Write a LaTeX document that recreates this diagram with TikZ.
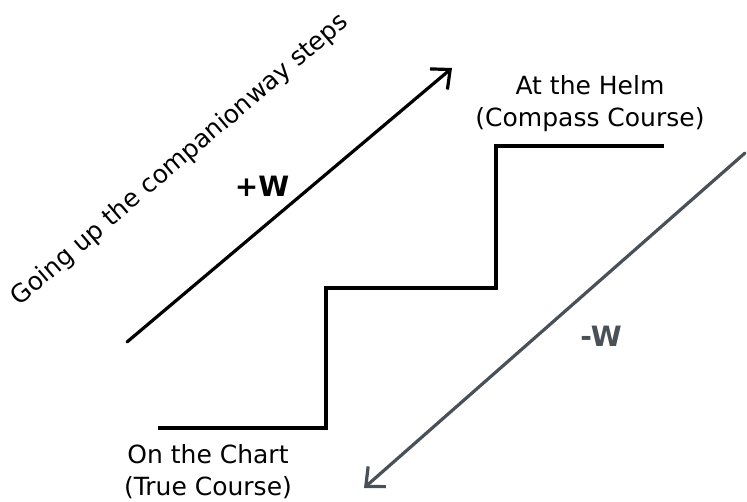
\documentclass[tikz,border=0pt]{standalone}
\usepackage{fontspec}
\setmainfont{DejaVu Sans}
\usetikzlibrary{arrows.meta}
\definecolor{inkgray}{HTML}{495057}
\tikzset{
  lbl/.style={font=\fontsize{25}{32}\selectfont, align=center, inner sep=0pt},
  stair/.style={line width=3.2pt, black, line join=miter},
  bigarrow/.style={line width=3.2pt, line cap=round, -{Straight Barb[length=15pt,width=27pt,line width=3.2pt]}},
}
\begin{document}
\begin{tikzpicture}[x=1pt,y=-1pt]
\useasboundingbox (0,0) rectangle (747,502);
% staircase
\coordinate (s0) at (158,428);
\coordinate (s1) at (326,428);
\coordinate (s2) at (326,288);
\coordinate (s3) at (496,288);
\coordinate (s4) at (496,146);
\coordinate (s5) at (664,146);
\draw[stair] (s0) -- (s1) -- (s2) -- (s3) -- (s4) -- (s5);
% arrows
\coordinate (pa) at (127,342);
\coordinate (pb) at (452,68);
\draw[bigarrow, black] (pa) -- (pb);
\coordinate (ma) at (745,153);
\coordinate (mb) at (364,488);
\draw[bigarrow, inkgray] (ma) -- (mb);
% labels
\node[lbl, rotate=40.5] (going) at (180,160) {Going up the companionway steps};
\node[lbl, font=\fontsize{28}{32}\selectfont\bfseries] (plusw) at (262,186) {+W};
\node[lbl, font=\fontsize{28}{32}\selectfont\bfseries, text=inkgray] (minusw) at (601,336) {-W};
\node[lbl] (helm) at (590,104) {At the Helm\\(Compass Course)};
\node[lbl] (chart) at (208,472) {On the Chart\\(True Course)};
\end{tikzpicture}
\end{document}
